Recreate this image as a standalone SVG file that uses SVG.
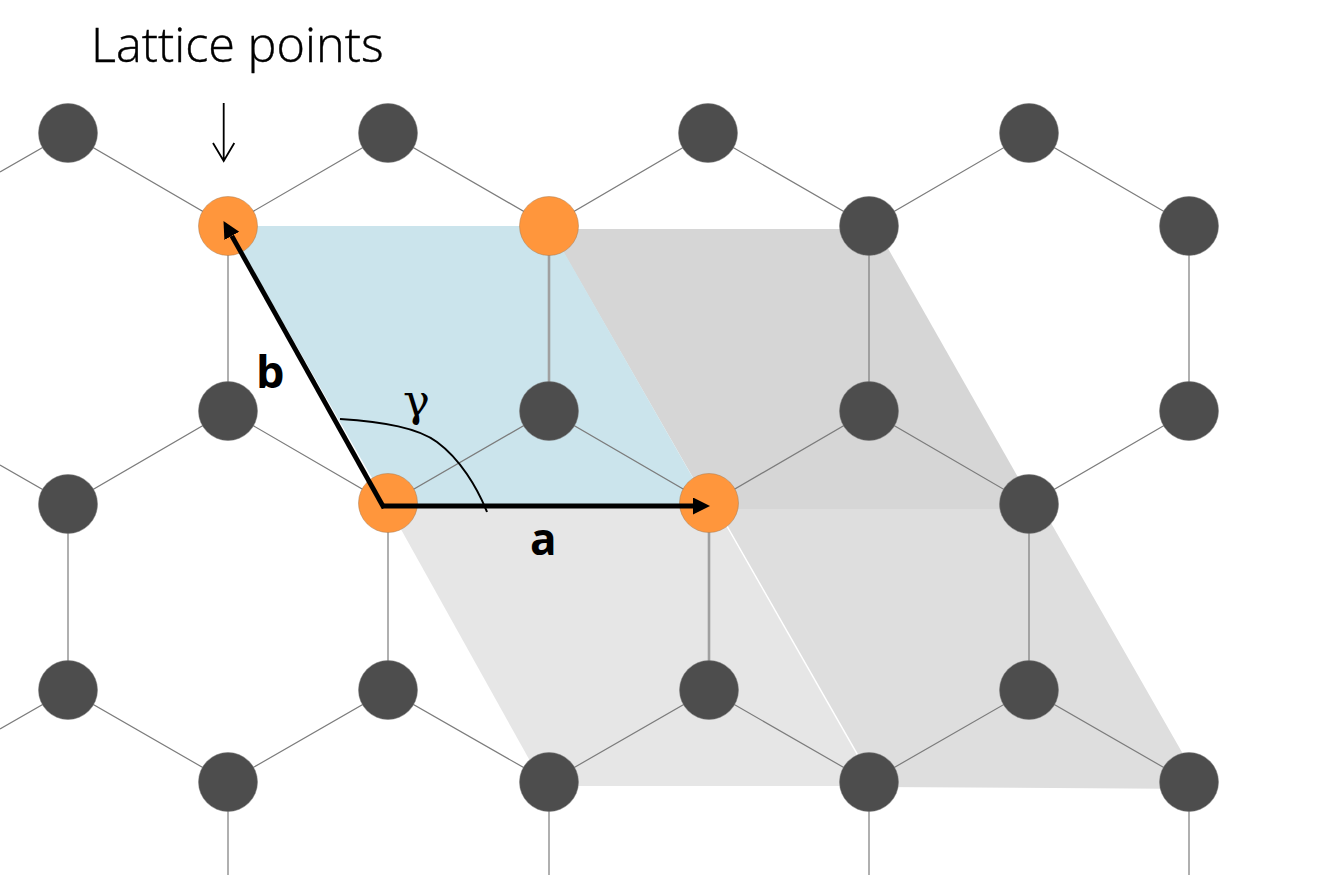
<svg xmlns="http://www.w3.org/2000/svg" width="1334" height="875" viewBox="0 0 1334 875">
<style>
.bond{stroke:#7c7c7c;stroke-width:1.2;fill:none}
.bond2{stroke:#a0a0a0;stroke-width:2.6;fill:none}
.atom{fill:#4d4d4d;stroke:#777;stroke-width:.5}
.lattice{fill:#ff963c;stroke:#a87a50;stroke-width:.5}
.lbl{font-family:"Open Sans","Noto Sans",sans-serif;fill:#000}
.vec{stroke:#000;stroke-width:4.800;fill:none}
</style>
<defs>
<marker id="head" markerUnits="userSpaceOnUse" markerWidth="18" markerHeight="18" refX="0" refY="8.500" orient="auto"><path d="M0 0L17 8.500L0 17Z" fill="#000"/></marker>
</defs>
<rect width="1334" height="875" fill="#fff"/>
<g id="cells">
<polygon points="388,506 716,506 876,786 544,786" fill="#e6e6e6"/>
<polygon points="716,509 1043,509 1203,789 876,787" fill="#dedede"/>
<polygon points="550,229 877,229 1036,509 711,509" fill="#d6d6d6"/>
<polygon points="228,226 549,226 709,506 388,506" fill="#cbe4ec"/>
<line x1="716" y1="507" x2="876" y2="787" stroke="#fff" stroke-width="1.5"/>
</g>
<g id="connectors">
<path class="bond" d="M0 172L68 133L228 226L388 133L549 226L708 133L869 226L1029 133L1189 226"/>
<path class="bond" d="M228 226V411M869 226V411M1189 226V411"/>
<path class="bond2" d="M549 226V411"/>
<path class="bond" d="M0 465L68 504L228 411L388 504L549 411L709 504L869 411L1029 504L1189 411"/>
<path class="bond" d="M68 504V690M388 504V690M1029 504V690"/>
<path class="bond2" d="M709 504V690"/>
<path class="bond" d="M0 729L68 690L228 782L388 690L549 782L709 690L869 782L1029 690L1189 782"/>
<path class="bond" d="M228 782V875M549 782V875M869 782V875M1189 782V875"/>
</g>
<g id="n1"><circle class="atom" cx="68" cy="133" r="29.5"/></g>
<g id="n2"><circle class="atom" cx="388" cy="133" r="29.5"/></g>
<g id="n3"><circle class="atom" cx="708" cy="133" r="29.5"/></g>
<g id="n4"><circle class="atom" cx="1029" cy="133" r="29.5"/></g>
<g id="n5"><circle class="lattice" cx="228" cy="226" r="29.5"/></g>
<g id="n6"><circle class="lattice" cx="549" cy="226" r="29.5"/></g>
<g id="n7"><circle class="atom" cx="869" cy="226" r="29.5"/></g>
<g id="n8"><circle class="atom" cx="1189" cy="226" r="29.5"/></g>
<g id="n9"><circle class="atom" cx="228" cy="411" r="29.5"/></g>
<g id="n10"><circle class="atom" cx="549" cy="411" r="29.5"/></g>
<g id="n11"><circle class="atom" cx="869" cy="411" r="29.5"/></g>
<g id="n12"><circle class="atom" cx="1189" cy="411" r="29.5"/></g>
<g id="n13"><circle class="atom" cx="68" cy="504" r="29.5"/></g>
<g id="n14"><circle class="lattice" cx="388" cy="503" r="29.5"/></g>
<g id="n15"><circle class="lattice" cx="709" cy="503" r="29.5"/></g>
<g id="n16"><circle class="atom" cx="1029" cy="504" r="29.5"/></g>
<g id="n17"><circle class="atom" cx="68" cy="690" r="29.5"/></g>
<g id="n18"><circle class="atom" cx="388" cy="690" r="29.5"/></g>
<g id="n19"><circle class="atom" cx="709" cy="690" r="29.5"/></g>
<g id="n20"><circle class="atom" cx="1029" cy="690" r="29.5"/></g>
<g id="n21"><circle class="atom" cx="228" cy="782" r="29.5"/></g>
<g id="n22"><circle class="atom" cx="549" cy="782" r="29.5"/></g>
<g id="n23"><circle class="atom" cx="869" cy="782" r="29.5"/></g>
<g id="n24"><circle class="atom" cx="1189" cy="782" r="29.5"/></g>
<g id="vectors">
<line class="vec" x1="382" y1="506" x2="693" y2="506" marker-end="url(#head)"/>
<line class="vec" x1="384" y1="508" x2="231.800" y2="235.800" marker-end="url(#head)"/>
<path d="M340 419C385 422 418 428 437 442C460 459 477 487 487 512" stroke="#000" stroke-width="2" fill="none"/>
<path d="M223.700 103V161M213 143L223.700 161L234.300 143" stroke="#000" stroke-width="1.800" fill="none"/>
</g>
<g id="labels">
<text class="lbl" x="91" y="62" font-size="48.600" font-weight="300" stroke="#000" stroke-width=".4">Lattice points</text>
<text class="lbl" x="256" y="388" font-size="45" font-weight="700">b</text>
<text class="lbl" x="530" y="555" font-size="44" font-weight="700">a</text>
<text x="403" y="416" font-size="45" font-family="'DejaVu Serif','Liberation Serif',serif" fill="#000">γ</text>
</g>
</svg>
